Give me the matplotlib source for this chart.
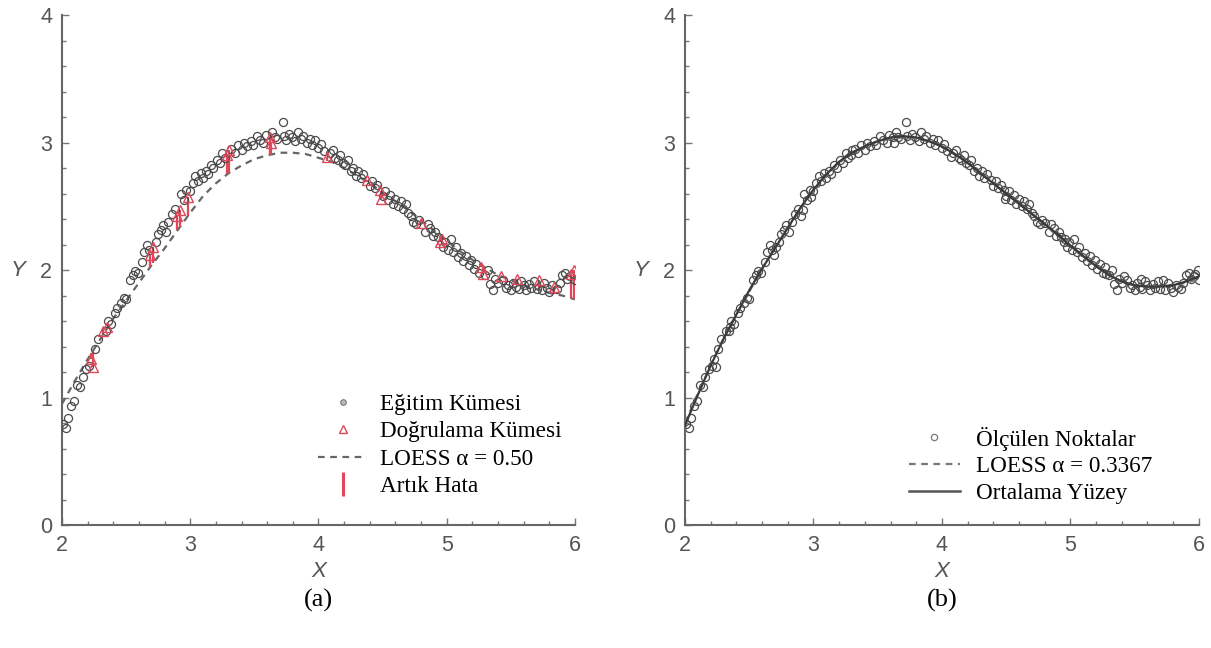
import numpy as np
import matplotlib
matplotlib.use("Agg")
import matplotlib.pyplot as plt
from matplotlib.lines import Line2D
from matplotlib.ticker import MultipleLocator

# training set (gray circles)
train_x = [2.01, 2.03, 2.05, 2.07, 2.09, 2.12, 2.14, 2.16, 2.19, 2.21, 2.26, 2.28, 2.34, 2.36, 2.38,
           2.41, 2.43, 2.46, 2.48, 2.50, 2.53, 2.55, 2.57, 2.59, 2.62, 2.64, 2.66, 2.68, 2.73, 2.75,
           2.77, 2.79, 2.81, 2.83, 2.86, 2.88, 2.93, 2.95, 2.97, 3.00, 3.02, 3.04, 3.06, 3.08, 3.10,
           3.12, 3.14, 3.16, 3.18, 3.21, 3.23, 3.25, 3.27, 3.32, 3.35, 3.37, 3.40, 3.42, 3.44, 3.47,
           3.49, 3.52, 3.54, 3.57, 3.59, 3.64, 3.66, 3.68, 3.72, 3.73, 3.75, 3.77, 3.79, 3.82, 3.84,
           3.86, 3.88, 3.91, 3.93, 3.95, 3.97, 4.00, 4.02, 4.04, 4.09, 4.11, 4.13, 4.15, 4.17, 4.19,
           4.21, 4.23, 4.25, 4.27, 4.29, 4.31, 4.33, 4.35, 4.40, 4.42, 4.44, 4.46, 4.50, 4.52, 4.54,
           4.56, 4.58, 4.60, 4.62, 4.64, 4.66, 4.68, 4.70, 4.72, 4.74, 4.76, 4.78, 4.83, 4.85, 4.87,
           4.89, 4.91, 4.93, 4.97, 4.99, 5.01, 5.03, 5.05, 5.07, 5.09, 5.11, 5.13, 5.15, 5.17, 5.19,
           5.21, 5.23, 5.25, 5.30, 5.32, 5.34, 5.36, 5.38, 5.40, 5.44, 5.46, 5.48, 5.50, 5.52, 5.54,
           5.56, 5.58, 5.60, 5.62, 5.64, 5.66, 5.68, 5.70, 5.74, 5.76, 5.78, 5.80, 5.82, 5.86, 5.88,
           5.90, 5.92, 5.94, 5.96, 6.00]
train_y = [0.79, 0.76, 0.84, 0.93, 0.97, 1.10, 1.08, 1.16, 1.22, 1.25, 1.38, 1.46, 1.52, 1.60, 1.58,
           1.66, 1.70, 1.74, 1.78, 1.77, 1.92, 1.96, 1.99, 1.98, 2.06, 2.14, 2.20, 2.16, 2.22, 2.28,
           2.31, 2.35, 2.30, 2.38, 2.44, 2.48, 2.60, 2.55, 2.63, 2.62, 2.68, 2.74, 2.70, 2.76, 2.72,
           2.78, 2.75, 2.82, 2.80, 2.86, 2.84, 2.92, 2.88, 2.95, 2.92, 2.98, 2.94, 3.00, 2.97, 3.01,
           2.98, 3.05, 3.02, 3.00, 3.06, 3.08, 3.04, 3.03, 3.16, 3.05, 3.02, 3.07, 3.04, 3.01, 3.08,
           3.03, 3.05, 3.00, 3.03, 2.98, 3.02, 2.96, 2.99, 2.93, 2.92, 2.94, 2.88, 2.86, 2.90, 2.84,
           2.82, 2.86, 2.78, 2.80, 2.74, 2.78, 2.72, 2.75, 2.66, 2.70, 2.64, 2.67, 2.58, 2.62, 2.55,
           2.59, 2.52, 2.56, 2.50, 2.54, 2.48, 2.52, 2.45, 2.42, 2.38, 2.36, 2.39, 2.30, 2.36, 2.33,
           2.27, 2.30, 2.26, 2.18, 2.22, 2.16, 2.24, 2.14, 2.18, 2.10, 2.13, 2.07, 2.11, 2.04, 2.08,
           2.01, 2.05, 1.98, 1.96, 2.00, 1.89, 1.84, 1.93, 1.90, 1.92, 1.86, 1.88, 1.84, 1.90, 1.87,
           1.85, 1.91, 1.88, 1.84, 1.89, 1.86, 1.91, 1.85, 1.84, 1.90, 1.86, 1.83, 1.88, 1.85, 1.90,
           1.96, 1.98, 1.93, 1.95, 1.92]

# validation set (red triangles)
val_x = [2.23, 2.24, 2.32, 2.35, 2.69, 2.71, 2.90, 2.92, 2.98, 3.29, 3.30, 3.62, 3.63, 4.07,
         4.38, 4.48, 4.49, 4.80, 4.95, 4.96, 5.27, 5.28, 5.42, 5.55, 5.72, 5.84, 5.97, 5.99]
val_y = [1.30, 1.24, 1.52, 1.55, 2.12, 2.18, 2.42, 2.47, 2.57, 2.90, 2.94, 3.04, 3.00, 2.89,
         2.71, 2.63, 2.56, 2.37, 2.22, 2.24, 2.02, 1.97, 1.95, 1.93, 1.92, 1.87, 1.97, 2.00]

# fitted curves on a 0.1 grid
grid_x = [2.0, 2.1, 2.2, 2.3, 2.4, 2.5, 2.6, 2.7, 2.8, 2.9, 3.0, 3.1, 3.2, 3.3, 3.4, 3.5, 3.6,
          3.7, 3.8, 3.9, 4.0, 4.1, 4.2, 4.3, 4.4, 4.5, 4.6, 4.7, 4.8, 4.9, 5.0, 5.1, 5.2, 5.3,
          5.4, 5.5, 5.6, 5.7, 5.8, 5.9, 6.0]
loess_050 = [0.95, 1.13, 1.30, 1.46, 1.62, 1.76, 1.90, 2.04, 2.17, 2.31, 2.45, 2.58, 2.68, 2.76,
             2.82, 2.87, 2.90, 2.92, 2.92, 2.91, 2.88, 2.85, 2.80, 2.74, 2.68, 2.61, 2.54, 2.47,
             2.39, 2.31, 2.23, 2.15, 2.08, 2.02, 1.96, 1.92, 1.88, 1.85, 1.82, 1.80, 1.77]
loess_opt = [0.80, 1.03, 1.25, 1.46, 1.65, 1.83, 2.01, 2.17, 2.33, 2.48, 2.62, 2.74, 2.84, 2.92,
             2.97, 3.01, 3.03, 3.04, 3.03, 3.01, 2.97, 2.91, 2.84, 2.76, 2.68, 2.60, 2.52, 2.44,
             2.36, 2.27, 2.19, 2.10, 2.03, 1.96, 1.91, 1.88, 1.87, 1.87, 1.88, 1.90, 1.93]
mean_surface = [0.78, 1.02, 1.25, 1.46, 1.65, 1.84, 2.01, 2.17, 2.33, 2.49, 2.63, 2.75, 2.85, 2.92,
                2.97, 3.01, 3.04, 3.05, 3.04, 3.01, 2.97, 2.91, 2.84, 2.76, 2.68, 2.60, 2.52, 2.44,
                2.36, 2.28, 2.19, 2.11, 2.03, 1.96, 1.91, 1.88, 1.87, 1.87, 1.88, 1.91, 1.95]

GRAY = "#555555"
RED = "#e0485a"
SERIF = ["Liberation Serif", "DejaVu Serif"]
SANS = ["Liberation Sans", "DejaVu Sans"]

fig = plt.figure(figsize=(12.11, 6.48), dpi=100)
ax_a = fig.add_axes([0.0512, 0.1898, 0.4236, 0.787])
ax_b = fig.add_axes([0.5656, 0.1898, 0.4244, 0.787])


def style_axes(ax):
    ax.set_xlim(2, 6)
    ax.set_ylim(0, 4)
    ax.xaxis.set_major_locator(MultipleLocator(1))
    ax.yaxis.set_major_locator(MultipleLocator(1))
    ax.xaxis.set_minor_locator(MultipleLocator(0.2))
    ax.yaxis.set_minor_locator(MultipleLocator(0.2))
    for side in ("top", "right"):
        ax.spines[side].set_visible(False)
    for side in ("left", "bottom"):
        ax.spines[side].set_color("#666666")
        ax.spines[side].set_linewidth(1.5)
    ax.tick_params(which="both", direction="in", colors="#777777", width=1,
                   labelcolor=GRAY, labelsize=15.5, pad=7)
    ax.tick_params(which="major", length=5)
    ax.tick_params(which="minor", length=3)
    for lab in ax.get_xticklabels() + ax.get_yticklabels():
        lab.set_family(SANS)
    ax.set_xlabel("X", family=SANS, style="italic", fontsize=16, color=GRAY, labelpad=4)
    ax.set_ylabel("Y", family=SANS, style="italic", fontsize=16, color=GRAY,
                  rotation=0, labelpad=16, va="center")


# (a) training / validation split with LOESS alpha = 0.50
style_axes(ax_a)
res_end = np.interp(val_x, grid_x, loess_050)
ax_a.vlines(val_x, val_y, res_end, color=RED, lw=1.6, zorder=3)
ax_a.plot(grid_x, loess_050, ls=(0, (3, 2.5)), color="#666666", lw=1.6, zorder=2)
ax_a.plot(train_x, train_y, "o", ms=5.8, mfc="none", mec="#4a4a4a", mew=0.9, zorder=4)
ax_a.plot(val_x, val_y, "^", ms=6.5, mfc="none", mec=RED, mew=1.0, zorder=5)

handles_a = [
    Line2D([], [], ls="none", marker="o", ms=4, mfc="#bbbbbb", mec="#777777", mew=0.8),
    Line2D([], [], ls="none", marker="^", ms=6, mfc="none", mec=RED, mew=1.0),
    Line2D([], [], ls=(0, (3, 2.5)), color="#666666", lw=1.6),
    Line2D([], [], ls="none", marker="|", ms=17, mec=RED, mew=2.2),
]
ax_a.legend(handles_a, ["Eğitim Kümesi", "Doğrulama Kümesi", "LOESS α = 0.50", "Artık Hata"],
            loc="upper left", bbox_to_anchor=(0.50, 0.257), frameon=False,
            prop={"family": SERIF, "size": 16.7}, handlelength=2.1, handletextpad=0.55,
            labelspacing=0.26, borderpad=0, borderaxespad=0)

# (b) all measured points with the optimal LOESS fit
style_axes(ax_b)
all_x = train_x + val_x
all_y = train_y + val_y
ax_b.plot(all_x, all_y, "o", ms=5.8, mfc="none", mec="#4a4a4a", mew=0.9, zorder=2)
ax_b.plot(grid_x, loess_opt, ls=(0, (3, 2.5)), color="#777777", lw=1.6, zorder=3)
ax_b.plot(grid_x, mean_surface, ls="-", color="#3a3a3a", lw=1.6, zorder=4)

handles_b = [
    Line2D([], [], ls="none", marker="o", ms=4.5, mfc="none", mec="#777777", mew=0.9),
    Line2D([], [], ls=(0, (3, 2.5)), color="#777777", lw=1.6),
    Line2D([], [], ls="-", color="#555555", lw=1.8),
]
ax_b.legend(handles_b, ["Ölçülen Noktalar", "LOESS α = 0.3367", "Ortalama Yüzey"],
            loc="upper left", bbox_to_anchor=(0.435, 0.193), frameon=False,
            prop={"family": SERIF, "size": 16.7}, handlelength=2.2, handletextpad=0.7,
            labelspacing=0.24, borderpad=0, borderaxespad=0)

fig.text(0.2631, 0.073, "(a)", family=SERIF, fontsize=19, ha="center", va="center")
fig.text(0.7778, 0.073, "(b)", family=SERIF, fontsize=19, ha="center", va="center")

fig.savefig("out.png", dpi=100, facecolor="white")
